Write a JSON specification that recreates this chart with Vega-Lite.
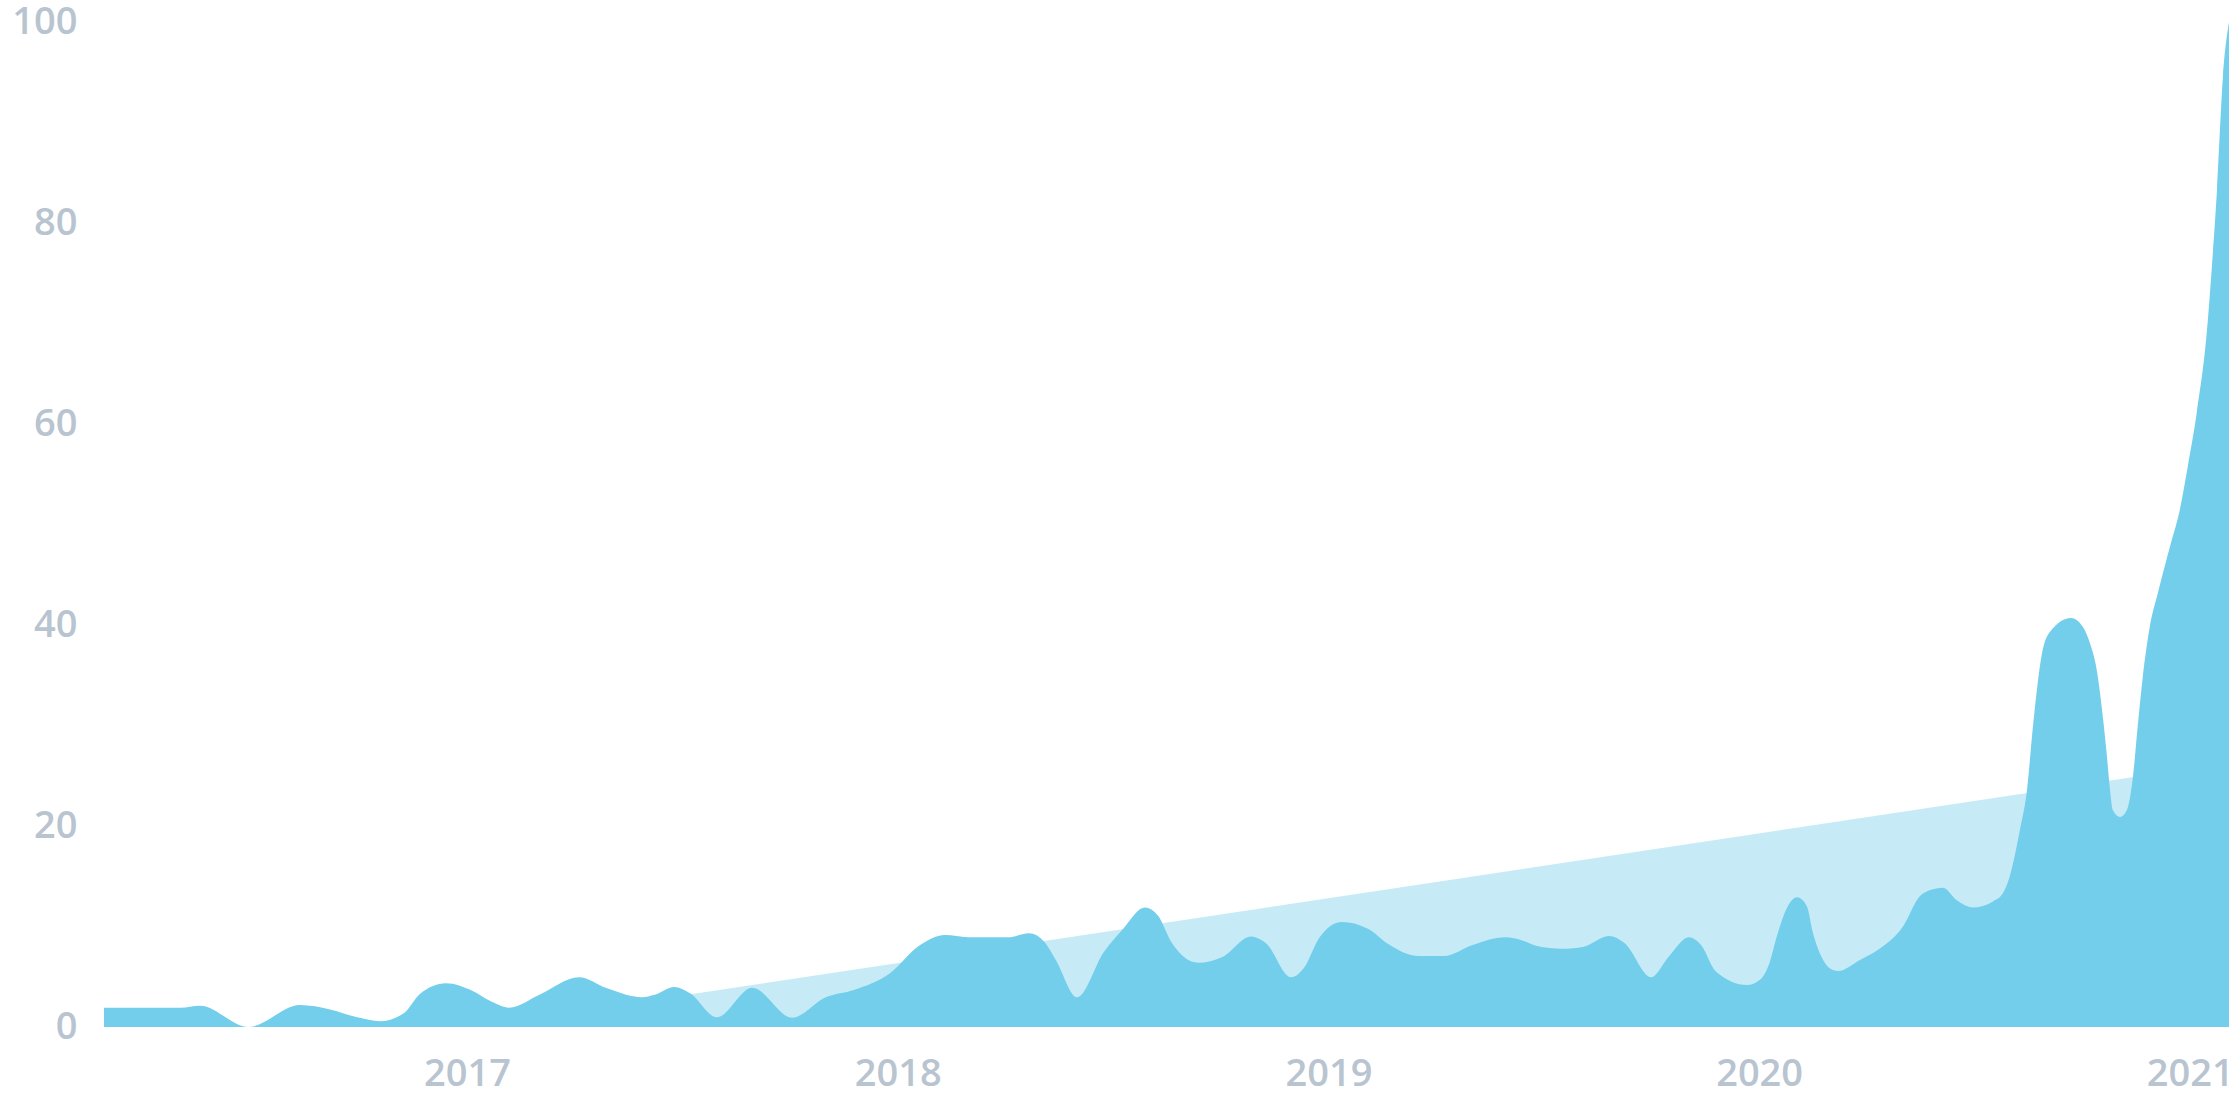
{
  "$schema": "https://vega.github.io/schema/vega-lite/v6.json",
  "autosize": {"type": "none"},
  "padding": {"left": 104, "top": 22, "right": 11, "bottom": 93},
  "width": 2125,
  "height": 1005,
  "background": "white",
  "config": {
    "view": {"stroke": null},
    "axis": {
      "grid": false,
      "domain": false,
      "ticks": false,
      "title": null,
      "labelFont": "Open Sans",
      "labelFontWeight": 600,
      "labelFontSize": 38,
      "labelColor": "#B8C4D0"
    }
  },
  "datasets": {
    "series": [
      {"year": 2016.157, "value": 1.92},
      {"year": 2016.334, "value": 1.92},
      {"year": 2016.380, "value": 2.12},
      {"year": 2016.492, "value": 0},
      {"year": 2016.612, "value": 2.19},
      {"year": 2016.682, "value": 1.75},
      {"year": 2016.745, "value": 0.96},
      {"year": 2016.798, "value": 0.57},
      {"year": 2016.854, "value": 1.4},
      {"year": 2016.891, "value": 3.3},
      {"year": 2016.951, "value": 4.35},
      {"year": 2017.012, "value": 3.6},
      {"year": 2017.053, "value": 2.6},
      {"year": 2017.098, "value": 1.92},
      {"year": 2017.167, "value": 3.18},
      {"year": 2017.260, "value": 4.95},
      {"year": 2017.325, "value": 3.85},
      {"year": 2017.406, "value": 2.96},
      {"year": 2017.436, "value": 3.2},
      {"year": 2017.481, "value": 3.98},
      {"year": 2017.518, "value": 3.35},
      {"year": 2017.580, "value": 0.96},
      {"year": 2017.662, "value": 3.91},
      {"year": 2017.755, "value": 0.93},
      {"year": 2017.833, "value": 2.96},
      {"year": 2017.898, "value": 3.68},
      {"year": 2017.982, "value": 5.34},
      {"year": 2018.047, "value": 8.0},
      {"year": 2018.110, "value": 9.15},
      {"year": 2018.163, "value": 8.93},
      {"year": 2018.256, "value": 8.93},
      {"year": 2018.305, "value": 9.32},
      {"year": 2018.340, "value": 8.49},
      {"year": 2018.367, "value": 6.67},
      {"year": 2018.416, "value": 2.96},
      {"year": 2018.479, "value": 7.49},
      {"year": 2018.521, "value": 9.65},
      {"year": 2018.574, "value": 11.9},
      {"year": 2018.604, "value": 11.1},
      {"year": 2018.637, "value": 8.33},
      {"year": 2018.697, "value": 6.4},
      {"year": 2018.755, "value": 7.0},
      {"year": 2018.820, "value": 9.0},
      {"year": 2018.855, "value": 8.33},
      {"year": 2018.913, "value": 4.95},
      {"year": 2018.945, "value": 6.0},
      {"year": 2018.978, "value": 8.83},
      {"year": 2019.031, "value": 10.45},
      {"year": 2019.094, "value": 9.72},
      {"year": 2019.136, "value": 8.33},
      {"year": 2019.210, "value": 7.06},
      {"year": 2019.268, "value": 7.06},
      {"year": 2019.335, "value": 8.16},
      {"year": 2019.410, "value": 8.93},
      {"year": 2019.452, "value": 8.59},
      {"year": 2019.484, "value": 8.06},
      {"year": 2019.542, "value": 7.79},
      {"year": 2019.593, "value": 7.99},
      {"year": 2019.651, "value": 9.05},
      {"year": 2019.688, "value": 8.33},
      {"year": 2019.749, "value": 4.95},
      {"year": 2019.790, "value": 7.0},
      {"year": 2019.837, "value": 8.93},
      {"year": 2019.865, "value": 8.16},
      {"year": 2019.900, "value": 5.5},
      {"year": 2019.972, "value": 4.18},
      {"year": 2020.002, "value": 4.7},
      {"year": 2020.025, "value": 6.5},
      {"year": 2020.041, "value": 9.0},
      {"year": 2020.064, "value": 11.8},
      {"year": 2020.088, "value": 12.9},
      {"year": 2020.111, "value": 12.0},
      {"year": 2020.125, "value": 9.35},
      {"year": 2020.141, "value": 7.33},
      {"year": 2020.164, "value": 5.84},
      {"year": 2020.183, "value": 5.57},
      {"year": 2020.234, "value": 6.67},
      {"year": 2020.287, "value": 8.0},
      {"year": 2020.334, "value": 10.0},
      {"year": 2020.373, "value": 13.0},
      {"year": 2020.396, "value": 13.6},
      {"year": 2020.427, "value": 13.86},
      {"year": 2020.459, "value": 12.6},
      {"year": 2020.496, "value": 11.9},
      {"year": 2020.543, "value": 12.5},
      {"year": 2020.566, "value": 13.3},
      {"year": 2020.582, "value": 15.0},
      {"year": 2020.605, "value": 19.5},
      {"year": 2020.622, "value": 23.6},
      {"year": 2020.636, "value": 30.0},
      {"year": 2020.656, "value": 37.0},
      {"year": 2020.675, "value": 39.3},
      {"year": 2020.724, "value": 40.7},
      {"year": 2020.752, "value": 39.8},
      {"year": 2020.768, "value": 38.2},
      {"year": 2020.784, "value": 35.5},
      {"year": 2020.798, "value": 30.9},
      {"year": 2020.807, "value": 27.2},
      {"year": 2020.814, "value": 23.9},
      {"year": 2020.821, "value": 21.6},
      {"year": 2020.838, "value": 20.9},
      {"year": 2020.854, "value": 21.6},
      {"year": 2020.868, "value": 24.9},
      {"year": 2020.879, "value": 29.9},
      {"year": 2020.891, "value": 34.9},
      {"year": 2020.907, "value": 39.8},
      {"year": 2020.926, "value": 43.2},
      {"year": 2020.954, "value": 47.8},
      {"year": 2020.977, "value": 51.5},
      {"year": 2020.995, "value": 55.7},
      {"year": 2021.016, "value": 61.1},
      {"year": 2021.040, "value": 69.4},
      {"year": 2021.051, "value": 75.5},
      {"year": 2021.063, "value": 83.2},
      {"year": 2021.077, "value": 94.6},
      {"year": 2021.091, "value": 100}
    ],
    "trend": [
      {"year": 2017.014, "value": 0},
      {"year": 2021.091, "value": 26.3}
    ]
  },
  "encoding": {
    "x": {
      "field": "year",
      "type": "quantitative",
      "scale": {"domain": [2016.157, 2021.091], "nice": false, "zero": false},
      "axis": {
        "values": [2017, 2018, 2019, 2020, 2021],
        "format": "d",
        "labelFlush": false,
        "labelPadding": 28
      }
    },
    "y": {
      "field": "value",
      "type": "quantitative",
      "scale": {"domain": [0, 100], "nice": false},
      "axis": {
        "values": [0, 20, 40, 60, 80, 100],
        "labelPadding": 27
      }
    }
  },
  "layer": [
    {
      "data": {"name": "trend"},
      "mark": {"type": "area", "color": "#C6EBF6", "interpolate": "linear"}
    },
    {
      "data": {"name": "series"},
      "mark": {"type": "area", "color": "#72CEEB", "interpolate": "monotone"}
    }
  ]
}
